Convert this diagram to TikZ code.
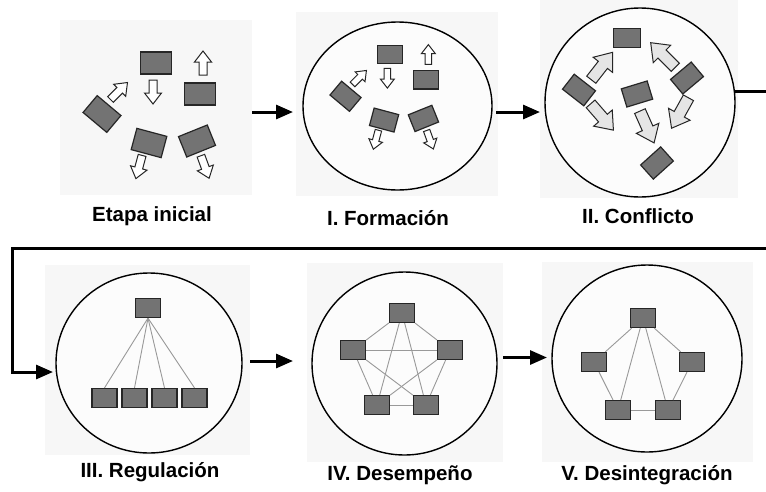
\documentclass[tikz,border=0pt]{standalone}
\usepackage{fontspec}
\setmainfont{Liberation Sans}
\usetikzlibrary{arrows.meta,shapes.geometric}

\tikzset{
  panel/.style={fill=black!3, draw=none, inner sep=0pt, outer sep=0pt},
  stage/.style={ellipse, draw=black, line width=1.4pt, fill=black!1, inner sep=0pt, outer sep=0pt},
  member/.style={draw=black!85, line width=1.2pt, fill=black!55, minimum width=25pt, minimum height=19pt, inner sep=0pt},
  tie/.style={draw=black!40, line width=0.9pt},
  flow/.style={line width=3pt, -{Triangle[length=17pt,width=14pt]}},
  caption/.style={font=\bfseries\fontsize{20.5}{24}\selectfont},
  blockarr/.pic={\draw[pic actions] (-12,-4) -- (1,-4) -- (1,-8.5) -- (12,0) -- (1,8.5) -- (1,4) -- (-12,4) -- cycle;}
}

% scattered members with their own arrows (etapa inicial, formacion)
\newcommand{\scatterteam}[1]{%
  \node[member, minimum width=31pt, minimum height=22pt] (#1a) at (1,-47) {};
  \node[member, minimum width=31pt, minimum height=22pt] (#1b) at (45,-16) {};
  \node[member, minimum width=31pt, minimum height=22pt, rotate=-40] (#1c) at (-53,4) {};
  \node[member, minimum width=31pt, minimum height=22pt, rotate=-15] (#1d) at (-6,33) {};
  \node[member, minimum width=31pt, minimum height=22pt, rotate=22] (#1e) at (42,31) {};
  \pic[draw=black!85, fill=white, line width=1pt, rotate=90] at (48,-47) {blockarr};
  \pic[draw=black!85, fill=white, line width=1pt, rotate=-90] at (-2,-18) {blockarr};
  \pic[draw=black!85, fill=white, line width=1pt, rotate=45] at (-36,-19) {blockarr};
  \pic[draw=black!85, fill=white, line width=1pt, rotate=-105] at (-16,57) {blockarr};
  \pic[draw=black!85, fill=white, line width=1pt, rotate=-70] at (50,57) {blockarr};
}

\begin{document}
\begin{tikzpicture}[x=1pt, y=-1pt]
  \useasboundingbox (0,0) rectangle (766,491);

  % backgrounds of the stage pictures
  \node[panel, minimum width=192pt, minimum height=175pt] (etapa) at (156,107.5) {};
  \fill[black!3] (296,12) rectangle (498,196);
  \fill[black!3] (540,0) rectangle (738,198);
  \fill[black!3] (45,265) rectangle (250,455);
  \fill[black!3] (307,263) rectangle (503,462);
  \fill[black!3] (542,262) rectangle (753,462);

  % stage circles
  \node[stage, minimum width=189pt, minimum height=168pt] (form) at (397.5,106) {};
  \node[stage, minimum width=190pt, minimum height=189pt] (conf) at (640,102.5) {};
  \node[stage, minimum width=186pt, minimum height=180pt] (reg) at (149,363) {};
  \node[stage, minimum width=185pt, minimum height=183pt] (des) at (404.5,363.5) {};
  \node[stage, minimum width=190pt, minimum height=187pt] (dis) at (647,358.5) {};

  % etapa inicial and I. formacion
  \begin{scope}[shift={(155,110)}]
    \scatterteam{e}
  \end{scope}
  \begin{scope}[shift={(389,93)}, scale=0.82, transform shape]
    \scatterteam{f}
  \end{scope}

  % II. conflicto
  \begin{scope}[member/.append style={minimum width=27pt}]
    \node[member] (c1) at (627,38) {};
    \node[member, rotate=-38] (c2) at (579,90) {};
    \node[member, rotate=40] (c3) at (687,78) {};
    \node[member, rotate=17] (c4) at (637,94) {};
    \node[member, rotate=42] (c5) at (657,163) {};
  \end{scope}
  \foreach \px/\py/\ang in {602/66/52, 663/55/135, 602/117/-49, 647/127/-66, 680/113/-119}
    \pic[draw=black!85, fill=black!10, line width=1pt, rotate=\ang, scale=1.45] at (\px,\py) {blockarr};

  % III. regulacion
  \node[member] (boss) at (148,308) {};
  \foreach \i/\px in {1/104.5, 2/134.5, 3/164.5, 4/194.5} {
    \node[member] (sub\i) at (\px,398) {};
    \draw[tie] (boss.south) -- (sub\i.north);
  }

  % IV. desempeno
  \node[member] (p1) at (402,313) {};
  \node[member] (p2) at (353,350) {};
  \node[member] (p3) at (450,350) {};
  \node[member] (p4) at (377,405) {};
  \node[member] (p5) at (426,405) {};
  \foreach \a/\b in {1/2,1/3,1/4,1/5,2/3,2/4,2/5,3/4,3/5,4/5}
    \draw[tie] (p\a) -- (p\b);

  % V. desintegracion
  \node[member] (q1) at (643,318) {};
  \node[member] (q2) at (594,362) {};
  \node[member] (q3) at (692,362) {};
  \node[member] (q4) at (618,410) {};
  \node[member] (q5) at (668,410) {};
  \foreach \a/\b in {1/2,1/3,2/4,3/5,4/5,1/4,1/5}
    \draw[tie] (q\a) -- (q\b);

  % captions
  \node[caption] (t0) at (152,216) {Etapa inicial};
  \node[caption] (t1) at (388,218) {I. Formación};
  \node[caption] (t2) at (638,216) {II. Conflicto};
  \node[caption] (t3) at (150,472) {III. Regulación};
  \node[caption] (t4) at (400,475) {IV. Desempeño};
  \node[caption] (t5) at (647,475) {V. Desintegración};

  % flow between stages
  \coordinate (row1) at (0,112);
  \draw[flow, shorten >=10pt] (etapa.east |- row1) -- (form.west |- row1);
  \draw[flow, shorten <=4pt, shorten >=5pt] (form.east |- row1) -- (conf.west |- row1);
  \draw[flow, shorten >=3pt] ([yshift=11pt]conf.east) -- (775,91.5) -- (775,248) -- (12,248) |- ([yshift=-9pt]reg.west);
  \draw[flow, shorten <=8pt, shorten >=19pt] ([yshift=2pt]reg.east) -- ([yshift=2pt]reg.east -| des.west);
  \draw[flow, shorten <=6pt, shorten >=5pt] ([yshift=6pt]des.east) -- ([yshift=6pt]des.east -| dis.west);
\end{tikzpicture}
\end{document}
